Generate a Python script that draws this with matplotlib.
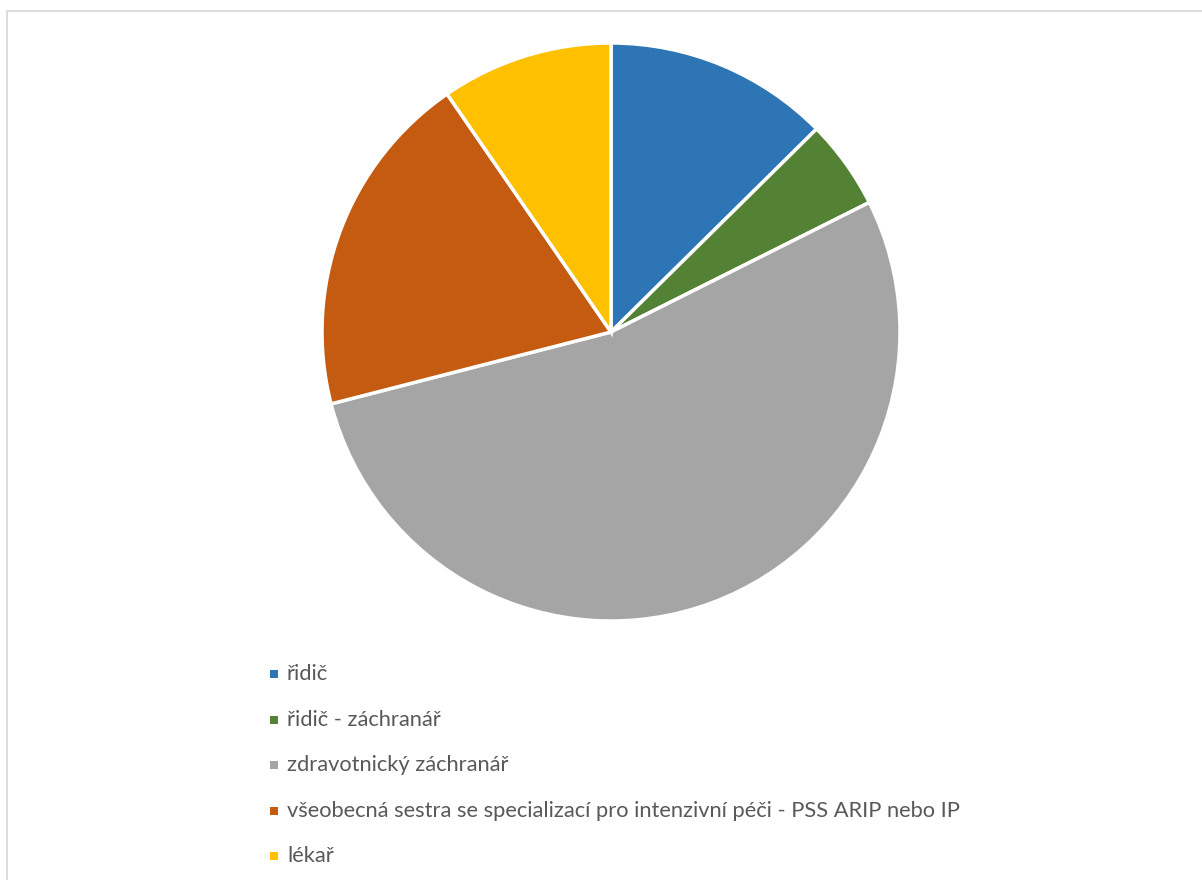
import matplotlib

matplotlib.use("Agg")
import matplotlib.pyplot as plt
from matplotlib.patches import Rectangle

# share of each role (%), clockwise from 12 o'clock
labels = [
    "řidič",
    "řidič - záchranář",
    "zdravotnický záchranář",
    "všeobecná sestra se specializací pro intenzivní péči - PSS ARIP nebo IP",
    "lékař",
]
values = [12.6, 5.0, 53.4, 19.4, 9.6]
colors = ["#2E75B6", "#548235", "#A5A5A5", "#C55A11", "#FFC000"]

W, H = 1202, 880
fig = plt.figure(figsize=(W / 100, H / 100), dpi=100)
fig.patch.set_facecolor("white")

# chart area frame
fig.patches.append(Rectangle((7 / W, -0.1), 1.2, (H - 11) / H + 0.1,
                             transform=fig.transFigure, fill=False,
                             edgecolor="#D9D9D9", linewidth=1.3))

cx, cy, r = 611, H - 332, 289
ax = fig.add_axes([(cx - r) / W, (cy - r) / H, 2 * r / W, 2 * r / H])
wedges, _ = ax.pie(values, colors=colors, startangle=90, counterclock=False,
                   radius=1.0,
                   wedgeprops=dict(edgecolor="white", linewidth=2.5))
ax.set_xlim(-1, 1)
ax.set_ylim(-1, 1)
ax.set_aspect("equal")
ax.axis("off")

# legend below the pie
y0, dy = 674, 45.5
for i, (lab, col) in enumerate(zip(labels, colors)):
    y = H - (y0 + i * dy)
    fig.patches.append(Rectangle((270 / W, (y - 4) / H), 8 / W, 8 / H,
                                 transform=fig.transFigure, facecolor=col,
                                 edgecolor="none"))
    fig.text(287 / W, y / H, lab, fontsize=15.75, color="#595959",
             family="Lato", va="center", ha="left")

fig.savefig("out.png", dpi=100, facecolor="white")
